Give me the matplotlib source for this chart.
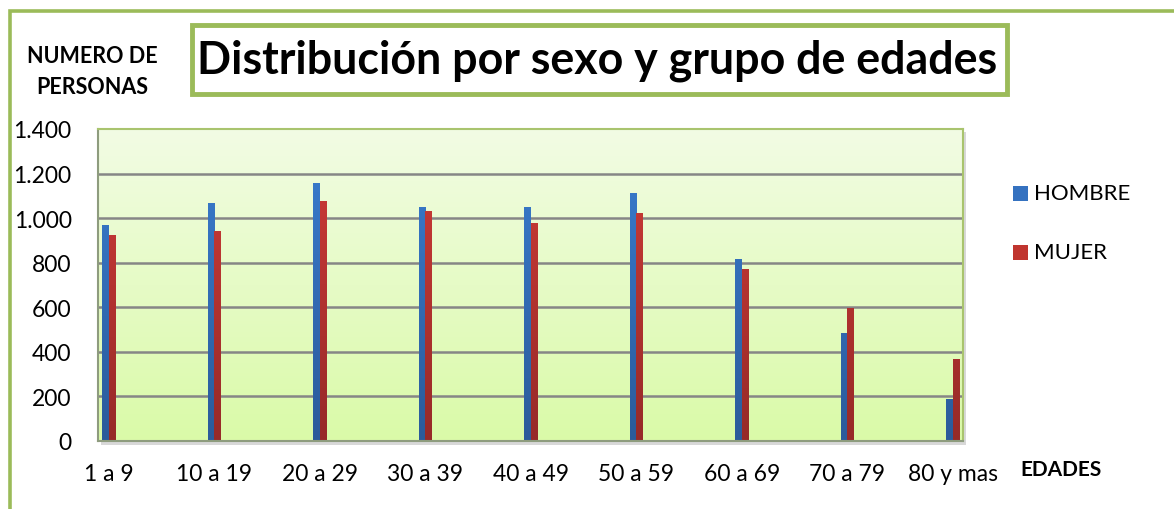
import matplotlib
matplotlib.use("Agg")
import matplotlib.pyplot as plt
import numpy as np
from matplotlib.patches import Rectangle
from matplotlib.colors import LinearSegmentedColormap

# ---- data ----
categories = ["1 a 9", "10 a 19", "20 a 29", "30 a 39", "40 a 49",
              "50 a 59", "60 a 69", "70 a 79", "80 y mas"]
hombre = [970, 1068, 1157, 1050, 1050, 1112, 816, 485, 188]
mujer = [924, 942, 1077, 1032, 978, 1023, 772, 597, 368]
series_names = ["HOMBRE", "MUJER"]
yticks = [0, 200, 400, 600, 800, 1000, 1200, 1400]
ytick_labels = ["0", "200", "400", "600", "800", "1.000", "1.200", "1.400"]
title = "Distribución por sexo y grupo de edades"
ylabel = "NUMERO DE\nPERSONAS"
xlabel = "EDADES"

W, H = 1174, 510
FONT = "Lato"
GREEN = "#9BBB59"

fig = plt.figure(figsize=(W / 100, H / 100), dpi=100)
fig.patch.set_facecolor("white")

def fx(x):
    return x / W

def fy(y):
    return 1 - y / H

# outer frame
fig.patches.append(Rectangle((fx(9.5), fy(600)), fx(1300), fy(12) - fy(600),
                             transform=fig.transFigure, fill=False,
                             edgecolor=GREEN, linewidth=2.6, zorder=0))

# plot area shadow
fig.patches.append(Rectangle((fx(101), fy(446)), fx(865), fy(133) - fy(446),
                             transform=fig.transFigure, facecolor="#d8d8d8",
                             edgecolor="none", zorder=0.5))

ax = fig.add_axes([fx(98), fy(442), fx(865), fy(130) - fy(442)])
ax.set_zorder(1)

n = len(categories)
x = np.arange(n)
bw = 0.066
xl = (-0.104, n - 1 + 0.095)

# background gradient
bg = LinearSegmentedColormap.from_list("bg", ["#DAFAA8", "#F2FCE4"])
grad = np.linspace(0, 1, 256).reshape(-1, 1)
ax.imshow(grad, cmap=bg, origin="lower", aspect="auto",
          extent=[xl[0], xl[1], 0, 1400], zorder=0)

for v in yticks[1:-1]:
    ax.axhline(v, color="#868686", linewidth=1.8, zorder=1)

blue_cm = LinearSegmentedColormap.from_list("b", ["#2B5B9A", "#3A7ED2"])
red_cm = LinearSegmentedColormap.from_list("r", ["#962A28", "#D23C38"])

bars_h = ax.bar(x - bw / 2, hombre, width=bw, color="#3572C0", zorder=2,
                label=series_names[0])
bars_m = ax.bar(x + bw / 2, mujer, width=bw, color="#C0352F", zorder=2,
                label=series_names[1])
for bars, cm in ((bars_h, blue_cm), (bars_m, red_cm)):
    for b in bars:
        x0 = b.get_x()
        im = ax.imshow(grad, cmap=cm, origin="lower", aspect="auto",
                       extent=[x0, x0 + b.get_width(), 0, 1400], zorder=2.5)
        im.set_clip_path(b)

ax.set_xlim(*xl)
ax.set_ylim(0, 1400)

ax.set_xticks(x)
ax.set_xticklabels(categories, fontsize=16.5, fontfamily=FONT)
ax.set_yticks(yticks)
ax.set_yticklabels(ytick_labels, fontsize=16.5, fontfamily=FONT)
ax.tick_params(length=0)
ax.tick_params(axis="x", pad=16)
ax.tick_params(axis="y", pad=19)

for s in ("top", "right"):
    ax.spines[s].set_color("#A9C46E")
    ax.spines[s].set_linewidth(1.5)
for s in ("left", "bottom"):
    ax.spines[s].set_color("#8E9C7E")
    ax.spines[s].set_linewidth(1.5)

# title box
fig.patches.append(Rectangle((fx(192), fy(95)), fx(1007 - 192), fy(26) - fy(95),
                             transform=fig.transFigure, facecolor="white",
                             edgecolor=GREEN, linewidth=3.5, zorder=1))
fig.text(fx(597), fy(61), title, fontsize=32.2, fontweight="bold",
         fontfamily=FONT, ha="center", va="center", zorder=2)

fig.text(fx(92), fy(72), ylabel, fontsize=15.5, fontweight="bold",
         fontfamily=FONT, ha="center", va="center", linespacing=1.55)
fig.text(fx(1061), fy(470), xlabel, fontsize=15, fontweight="bold",
         fontfamily=FONT, ha="center", va="center")

# legend
leg_items = [(series_names[0], 194, "#3572C0"), (series_names[1], 253, "#C0352F")]
for name, yc, col in leg_items:
    fig.patches.append(Rectangle((fx(1013), fy(yc + 7.5)), fx(15), fy(yc - 7.5) - fy(yc + 7.5),
                                 transform=fig.transFigure, facecolor=col,
                                 edgecolor="none"))
    fig.text(fx(1034), fy(yc), name, fontsize=16, fontfamily=FONT,
             ha="left", va="center")

fig.savefig("out.png", dpi=100)
